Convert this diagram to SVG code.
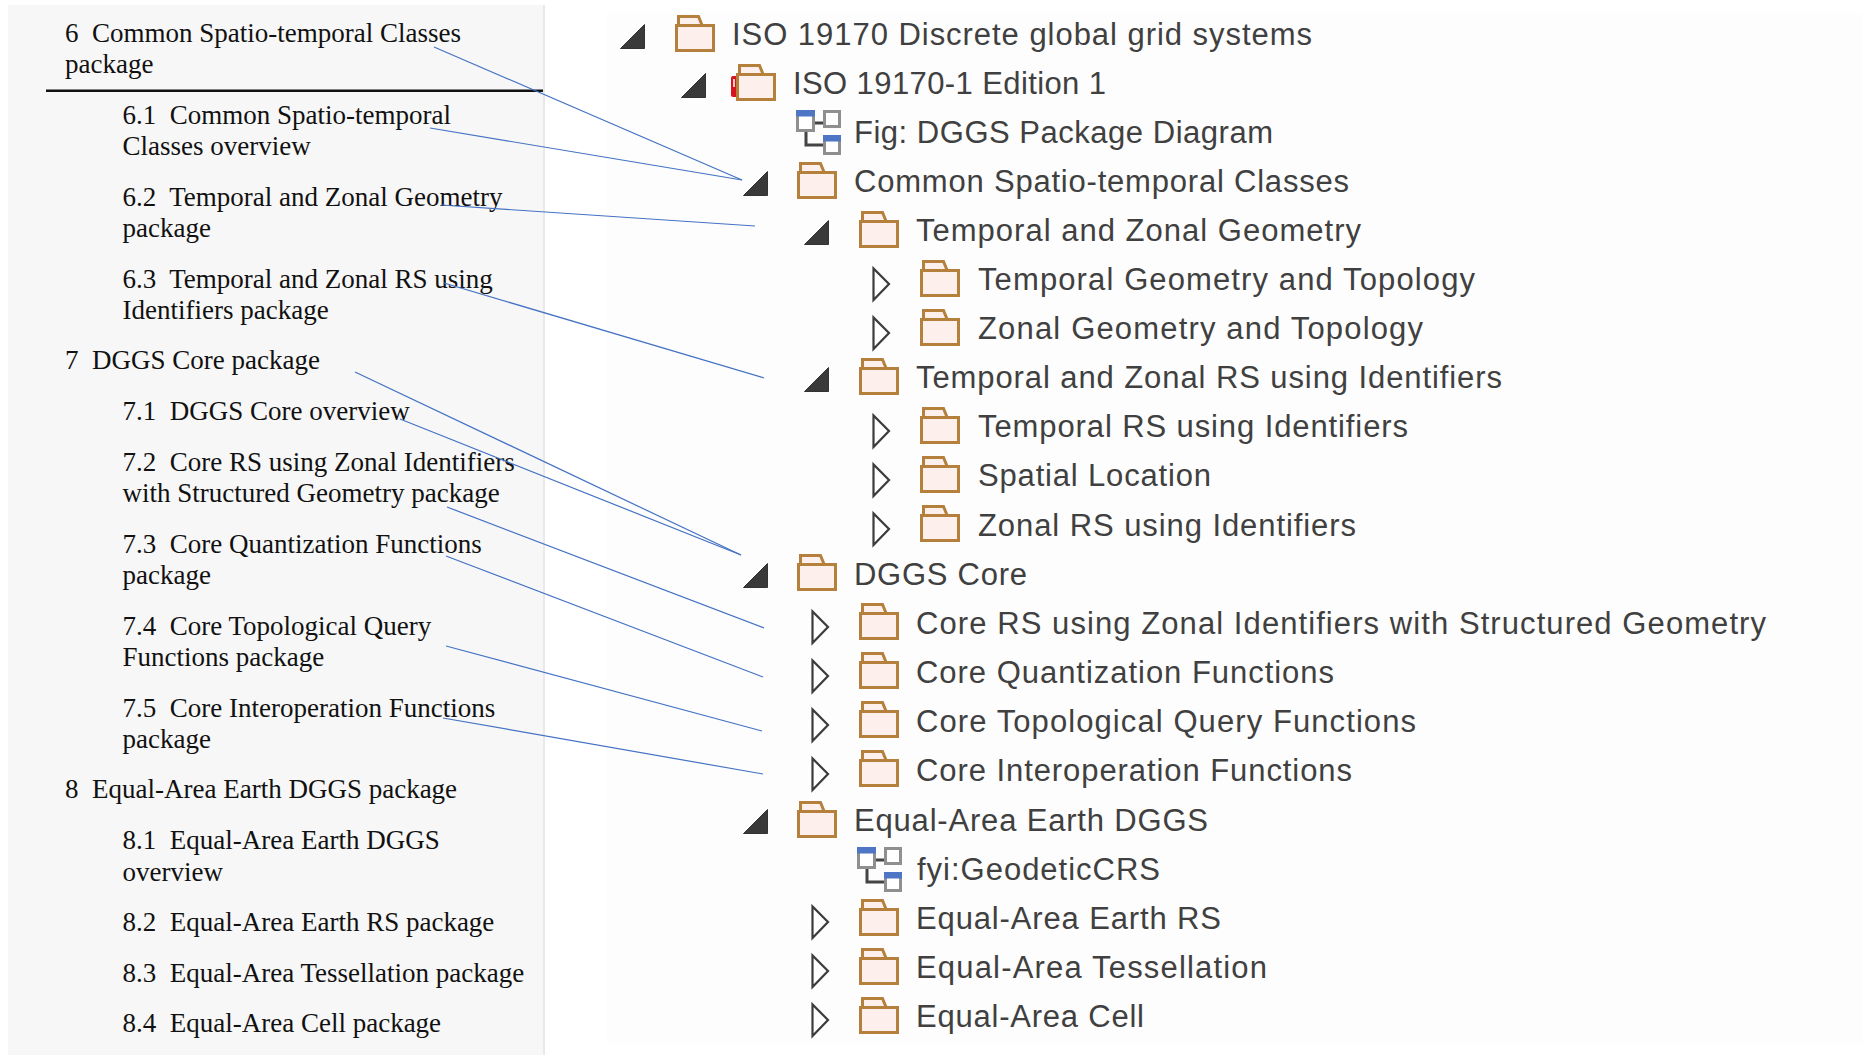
<svg xmlns="http://www.w3.org/2000/svg" xmlns:xlink="http://www.w3.org/1999/xlink" width="1870" height="1058" viewBox="0 0 1870 1058">
<style>
.toc{font-family:"Liberation Serif","Times New Roman",serif;font-size:27px;fill:#111;white-space:pre}
.t{font-family:"Liberation Sans",Arial,sans-serif;font-size:31px;fill:#404040}
.conn{stroke:#4472c4;stroke-width:1.2;fill:none}
.fo{fill:#fdf0ec;stroke:#b57f3c;stroke-width:3}
.tb{fill:#fdf0ec;stroke:#b57f3c;stroke-width:3}
.op{fill:#fff;stroke:#3c3c3c;stroke-width:2.2}
.cl{fill:#3a3a3a;stroke:#333;stroke-width:1}
.bx{fill:#fff;stroke:#8f8f8f;stroke-width:3}
.bl{fill:#4f76c4}
.ln{fill:none;stroke:#444;stroke-width:3}
</style>
<defs>
<g id="folder"><path class="tb" d="M2.5 10V1.5H22.5L26 10"/><rect class="fo" x="0.5" y="10.5" width="37" height="25"/></g>
<path id="open" class="op" d="M1.5 1.5V33L17 17Z"/>
<path id="closed" class="cl" d="M24.5 0.5V24.5H0.5Z"/>
<g id="diagram"><path class="ln" d="M17 13H28M10 20V35H28"/><rect class="bx" x="1.5" y="1.5" width="16" height="19"/><rect class="bl" x="0" y="0" width="19" height="6.500"/><rect class="bx" x="28.500" y="1.500" width="15" height="15"/><rect class="bx" x="28.500" y="26.500" width="15" height="17"/><rect class="bl" x="27" y="25" width="18" height="6.500"/></g>
</defs>
<rect x="607" y="13" width="1256" height="1032" fill="#fdfdfd"/>
<rect x="8" y="5" width="535" height="1050" fill="#f7f7f7"/>
<rect x="543" y="5" width="2" height="1050" fill="#e9e9e9"/>
<g id="toc">
<g id="toc-6"><text class="toc" x="65" y="42">6  Common Spatio-temporal Classes</text><text class="toc" x="65" y="73">package</text></g>
<rect id="toc-rule" x="46" y="89.500" width="497" height="2.500" fill="#111"/>
<g id="toc-6-1"><text class="toc" x="122.500" y="124">6.1  Common Spatio-temporal</text><text class="toc" x="122.500" y="155">Classes overview</text></g>
<g id="toc-6-2"><text class="toc" x="122.500" y="206">6.2  Temporal and Zonal Geometry</text><text class="toc" x="122.500" y="237">package</text></g>
<g id="toc-6-3"><text class="toc" x="122.500" y="288">6.3  Temporal and Zonal RS using</text><text class="toc" x="122.500" y="319">Identifiers package</text></g>
<g id="toc-7"><text class="toc" x="65" y="369">7  DGGS Core package</text></g>
<g id="toc-7-1"><text class="toc" x="122.500" y="420">7.1  DGGS Core overview</text></g>
<g id="toc-7-2"><text class="toc" x="122.500" y="471">7.2  Core RS using Zonal Identifiers</text><text class="toc" x="122.500" y="502">with Structured Geometry package</text></g>
<g id="toc-7-3"><text class="toc" x="122.500" y="553">7.3  Core Quantization Functions</text><text class="toc" x="122.500" y="584">package</text></g>
<g id="toc-7-4"><text class="toc" x="122.500" y="635">7.4  Core Topological Query</text><text class="toc" x="122.500" y="666">Functions package</text></g>
<g id="toc-7-5"><text class="toc" x="122.500" y="717">7.5  Core Interoperation Functions</text><text class="toc" x="122.500" y="748">package</text></g>
<g id="toc-8"><text class="toc" x="65" y="798">8  Equal-Area Earth DGGS package</text></g>
<g id="toc-8-1"><text class="toc" x="122.500" y="849">8.1  Equal-Area Earth DGGS</text><text class="toc" x="122.500" y="881">overview</text></g>
<g id="toc-8-2"><text class="toc" x="122.500" y="931">8.2  Equal-Area Earth RS package</text></g>
<g id="toc-8-3"><text class="toc" x="122.500" y="982">8.3  Equal-Area Tessellation package</text></g>
<g id="toc-8-4"><text class="toc" x="122.500" y="1032">8.4  Equal-Area Cell package</text></g>
</g>
<g id="tree">
<g id="r0"><use href="#closed" x="620" y="24"/><use href="#folder" x="676" y="15"/><text class="t" x="732" y="45" textLength="580">ISO 19170 Discrete global grid systems</text></g>
<g id="r1"><rect x="731" y="76" width="9" height="21" rx="2" fill="#d8141c"/><rect x="733" y="79" width="2" height="8" fill="#f6c9c9"/><use href="#closed" x="681" y="73"/><use href="#folder" x="737" y="64"/><text class="t" x="793" y="94" textLength="313">ISO 19170-1 Edition 1</text></g>
<g id="r2"><use href="#diagram" x="796" y="110"/><text class="t" x="854" y="143" textLength="419">Fig: DGGS Package Diagram</text></g>
<g id="r3"><use href="#closed" x="743" y="171"/><use href="#folder" x="798" y="162"/><text class="t" x="854" y="192" textLength="495">Common Spatio-temporal Classes</text></g>
<g id="r4"><use href="#closed" x="804" y="220"/><use href="#folder" x="860" y="211"/><text class="t" x="916" y="241" textLength="445">Temporal and Zonal Geometry</text></g>
<g id="r5"><use href="#open" x="872" y="267"/><use href="#folder" x="921" y="260"/><text class="t" x="978" y="290" textLength="497">Temporal Geometry and Topology</text></g>
<g id="r6"><use href="#open" x="872" y="316"/><use href="#folder" x="921" y="309"/><text class="t" x="978" y="339" textLength="445">Zonal Geometry and Topology</text></g>
<g id="r7"><use href="#closed" x="804" y="367"/><use href="#folder" x="860" y="358"/><text class="t" x="916" y="388" textLength="586">Temporal and Zonal RS using Identifiers</text></g>
<g id="r8"><use href="#open" x="872" y="414"/><use href="#folder" x="921" y="407"/><text class="t" x="978" y="437" textLength="430">Temporal RS using Identifiers</text></g>
<g id="r9"><use href="#open" x="872" y="463"/><use href="#folder" x="921" y="456"/><text class="t" x="978" y="486" textLength="233">Spatial Location</text></g>
<g id="r10"><use href="#open" x="872" y="512"/><use href="#folder" x="921" y="505"/><text class="t" x="978" y="536" textLength="378">Zonal RS using Identifiers</text></g>
<g id="r11"><use href="#closed" x="743" y="563"/><use href="#folder" x="798" y="554"/><text class="t" x="854" y="585" textLength="173">DGGS Core</text></g>
<g id="r12"><use href="#open" x="811" y="610"/><use href="#folder" x="860" y="603"/><text class="t" x="916" y="634" textLength="850">Core RS using Zonal Identifiers with Structured Geometry</text></g>
<g id="r13"><use href="#open" x="811" y="659"/><use href="#folder" x="860" y="652"/><text class="t" x="916" y="683" textLength="418">Core Quantization Functions</text></g>
<g id="r14"><use href="#open" x="811" y="708"/><use href="#folder" x="860" y="701"/><text class="t" x="916" y="732" textLength="500">Core Topological Query Functions</text></g>
<g id="r15"><use href="#open" x="811" y="757"/><use href="#folder" x="860" y="750"/><text class="t" x="916" y="781" textLength="436">Core Interoperation Functions</text></g>
<g id="r16"><use href="#closed" x="743" y="809"/><use href="#folder" x="798" y="801"/><text class="t" x="854" y="831" textLength="354">Equal-Area Earth DGGS</text></g>
<g id="r17"><use href="#diagram" x="857" y="847"/><text class="t" x="917" y="880" textLength="243">fyi:GeodeticCRS</text></g>
<g id="r18"><use href="#open" x="811" y="905"/><use href="#folder" x="860" y="899"/><text class="t" x="916" y="929" textLength="305">Equal-Area Earth RS</text></g>
<g id="r19"><use href="#open" x="811" y="954"/><use href="#folder" x="860" y="948"/><text class="t" x="916" y="978" textLength="351">Equal-Area Tessellation</text></g>
<g id="r20"><use href="#open" x="811" y="1003"/><use href="#folder" x="860" y="997"/><text class="t" x="916" y="1027" textLength="228">Equal-Area Cell</text></g>
</g>
<g id="connectors">
<line class="conn" x1="434" y1="47" x2="742" y2="180"/>
<line class="conn" x1="430" y1="128" x2="742" y2="180"/>
<line class="conn" x1="441" y1="205" x2="755" y2="226"/>
<line class="conn" x1="444" y1="283" x2="764" y2="378"/>
<line class="conn" x1="355" y1="372" x2="741" y2="555"/>
<line class="conn" x1="400" y1="419" x2="741" y2="555"/>
<line class="conn" x1="447" y1="507" x2="764" y2="628"/>
<line class="conn" x1="446" y1="556" x2="763" y2="677"/>
<line class="conn" x1="446" y1="646" x2="762" y2="731"/>
<line class="conn" x1="443" y1="718" x2="763" y2="774"/>
</g>
</svg>
